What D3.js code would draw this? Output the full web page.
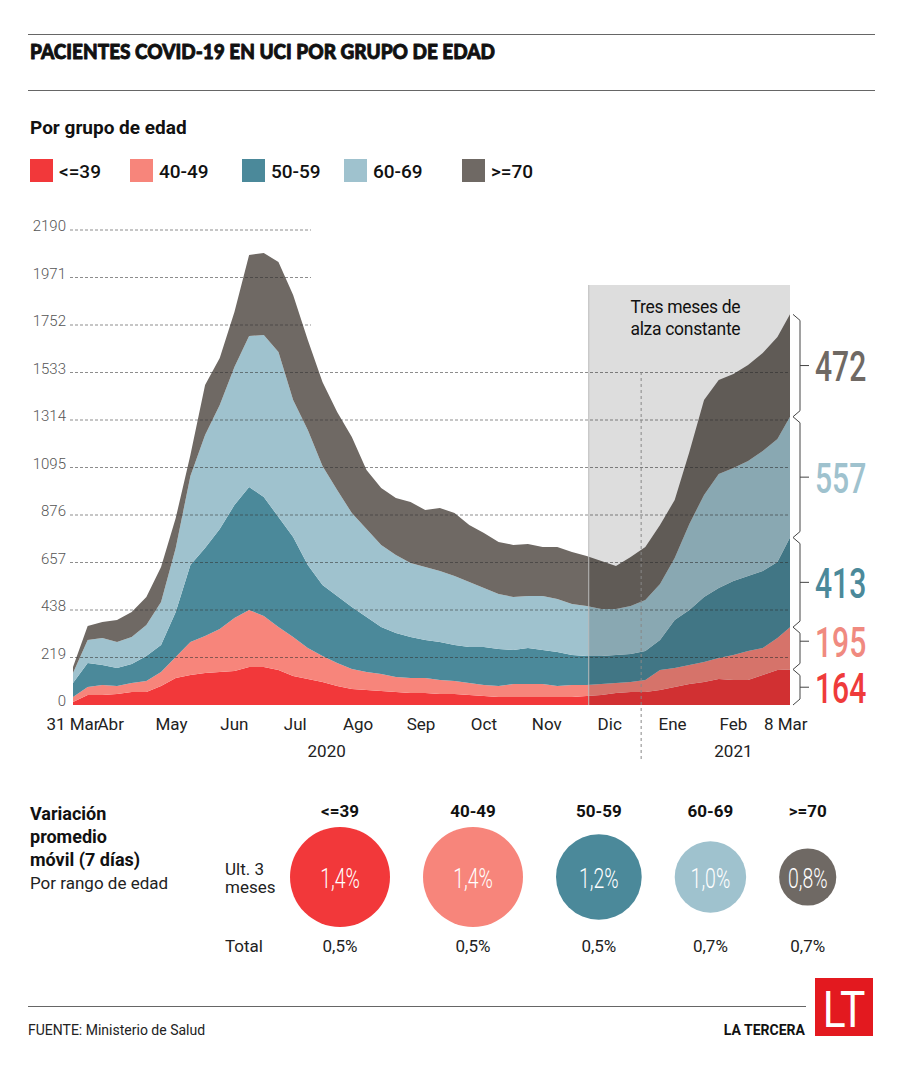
<!DOCTYPE html>
<html><head><meta charset="utf-8">
<script src="https://cdn.jsdelivr.net/npm/d3@7"></script>
<style>
body{margin:0;background:#fff}
svg{display:block}
text{font-family:Roboto,"Noto Sans",sans-serif}
</style>
</head><body><svg id="c" width="900" height="1071"></svg>
<script>
// ---------------- DATA ----------------
const dates = ["2020-03-31","2020-04-07","2020-04-14","2020-04-21","2020-04-28","2020-05-05","2020-05-12","2020-05-19","2020-05-26",
"2020-06-02","2020-06-09","2020-06-16","2020-06-23","2020-06-30","2020-07-07","2020-07-14","2020-07-21","2020-07-28",
"2020-08-04","2020-08-11","2020-08-18","2020-08-25","2020-09-01","2020-09-08","2020-09-15","2020-09-22","2020-09-29",
"2020-10-06","2020-10-13","2020-10-20","2020-10-27","2020-11-03","2020-11-10","2020-11-17","2020-11-24",
"2020-12-01","2020-12-08","2020-12-15","2020-12-22","2020-12-29","2021-01-05","2021-01-12","2021-01-19","2021-01-26",
"2021-02-02","2021-02-09","2021-02-16","2021-02-23","2021-03-02","2021-03-08"];
const age39   = [14,46,46,51,60,60,88,124,138,148,152,157,175,175,161,134,120,106,88,74,69,65,60,55,55,51,51,46,41,37,37,37,37,37,37,41,46,55,60,60,69,83,97,106,120,115,115,138,161,164];
const age40_49= [23,37,46,37,41,51,64,97,152,170,198,244,263,235,199,180,143,120,106,92,83,78,69,69,69,64,60,55,51,51,60,60,60,51,55,51,51,46,46,55,92,88,87,92,97,116,134,125,148,195];
const age50_59= [64,111,92,83,88,115,125,208,355,406,461,521,567,549,507,461,382,327,309,286,254,217,203,190,176,175,166,166,175,170,157,166,157,156,139,134,129,130,129,134,139,221,254,300,322,341,346,355,350,413];
const age60_69= [46,106,125,119,125,143,198,295,411,521,572,636,696,747,761,631,623,549,488,433,405,378,360,341,336,328,318,300,272,254,244,240,249,245,235,230,217,212,221,235,258,286,397,470,526,521,530,553,567,557];
const age70   = [28,64,74,102,115,129,161,138,97,230,217,254,374,378,414,484,415,387,360,351,272,262,262,281,263,290,290,263,254,240,240,239,225,239,239,231,221,198,226,244,272,267,331,438,433,433,443,452,471,472];
const groups = ["<=39","40-49","50-59","60-69",">=70"];
const yTicks = [0,219,438,657,876,1095,1314,1533,1752,1971,2190];
const monthLabels = ["31 Mar","Abr","May","Jun","Jul","Ago","Sep","Oct","Nov","Dic","Ene","Feb","8 Mar"];
const monthLabelDates = ["2020-03-31","2020-04-18","2020-05-17","2020-06-16","2020-07-15","2020-08-14","2020-09-13","2020-10-13","2020-11-12","2020-12-12","2021-01-11","2021-02-09","2021-03-06"];
const yearLabels = ["2020","2021"];
const yearLabelDates = ["2020-07-30","2021-02-09"];
const shadeStart = "2020-12-02", shadeEnd = "2021-03-08", yearDivider = "2020-12-27";
const varLast3 = [1.4,1.4,1.2,1.0,0.8];
const varTotal = [0.5,0.5,0.5,0.7,0.7];

// ---------------- STYLE ----------------
const colors = ["#f2383a","#f7857b","#4b899a","#9fc2ce","#6f6964"];
const labelColors = ["#ef3b3b","#f08a80","#4b899a","#9fc2ce","#6f6964"];

const svg = d3.select("#c");
svg.append("rect").attr("width",900).attr("height",1071).attr("fill","#fff");

// header
svg.append("line").attr("x1",28).attr("x2",875).attr("y1",34.5).attr("y2",34.5).attr("stroke","#666");
svg.append("text").attr("x",30).attr("y",59).attr("font-size",21).attr("font-weight",900).attr("fill","#111")
  .attr("stroke","#111").attr("stroke-width",0.9).attr("stroke-linejoin","round")
  .style("font-family","Lato, Roboto, sans-serif")
  .attr("textLength",465).attr("lengthAdjust","spacingAndGlyphs").text("PACIENTES COVID-19 EN UCI POR GRUPO DE EDAD");
svg.append("line").attr("x1",28).attr("x2",875).attr("y1",90.5).attr("y2",90.5).attr("stroke","#666");
svg.append("text").attr("x",30).attr("y",134).attr("font-size",19).attr("font-weight",700).attr("fill","#111").text("Por grupo de edad");

const legendX = [30,130,242,344,462];
groups.forEach((g,i)=>{
  svg.append("rect").attr("x",legendX[i]).attr("y",159).attr("width",23).attr("height",23).attr("fill",colors[i]);
  svg.append("text").attr("x",legendX[i]+29).attr("y",178).attr("font-size",19).attr("font-weight",500).attr("fill","#111").text(g);
});

// chart
const parse = d3.utcParse("%Y-%m-%d");
const x = d3.scaleUtc().domain([parse(dates[0]), parse(dates[dates.length-1])]).range([73,790]);
const y = d3.scaleLinear().domain([0,2190]).range([705,230]);
const keys = ["a","b","c","d","e"];
const rows = dates.map((d,i)=>({date:parse(d),a:age39[i],b:age40_49[i],c:age50_59[i],d:age60_69[i],e:age70[i]}));
const stacked = d3.stack().keys(keys)(rows);
const area = d3.area().x(d=>x(d.data.date)).y0(d=>y(d[0])).y1(d=>y(d[1]));
svg.append("g").selectAll("path").data(stacked).join("path")
  .attr("d",area).attr("fill",(d,i)=>colors[i]);

// gridlines
const grid = svg.append("g");
yTicks.filter(v=>v>0).forEach(v=>{
  grid.append("line").attr("x1",70).attr("x2",v>1533?311:790).attr("y1",y(v)).attr("y2",y(v))
    .attr("stroke","#333").attr("stroke-opacity",0.7).attr("stroke-width",0.8).attr("stroke-dasharray","3,2");
});
yTicks.forEach(v=>{
  svg.append("text").attr("x",66).attr("y",y(v)+1).attr("text-anchor","end").attr("font-size",15)
    .attr("font-weight",300).attr("fill","#555").text(v);
});

// shaded period
const sx0 = x(parse(shadeStart)), sx1 = x(parse(shadeEnd));
svg.append("rect").attr("x",sx0).attr("y",285).attr("width",sx1-sx0).attr("height",705-285)
  .attr("fill","#000").attr("fill-opacity",0.135);
svg.append("line").attr("x1",sx0).attr("x2",sx0).attr("y1",285).attr("y2",705).attr("stroke","#bbb");
const dvx = x(parse(yearDivider));
svg.append("line").attr("x1",dvx).attr("x2",dvx).attr("y1",372).attr("y2",760)
  .attr("stroke","#888").attr("stroke-dasharray","3,3");
const bcx = (sx0+sx1)/2-4;
svg.append("text").attr("x",bcx).attr("y",313).attr("text-anchor","middle").attr("font-size",17.5).attr("fill","#111").attr("letter-spacing",-0.3).text("Tres meses de");
svg.append("text").attr("x",bcx).attr("y",335).attr("text-anchor","middle").attr("font-size",17.5).attr("fill","#111").attr("letter-spacing",-0.3).text("alza constante");

// x labels
monthLabels.forEach((m,i)=>{
  svg.append("text").attr("x",x(parse(monthLabelDates[i]))).attr("y",730).attr("text-anchor","middle")
    .attr("font-size",17).attr("fill","#222").text(m);
});
yearLabels.forEach((m,i)=>{
  svg.append("text").attr("x",x(parse(yearLabelDates[i]))).attr("y",757).attr("text-anchor","middle")
    .attr("font-size",17).attr("fill","#222").text(m);
});

// right braces and labels
const last = stacked.map(s=>s[s.length-1]);
let mids = last.map(d=>(y(d[0])+y(d[1]))/2);
for(let i=1;i<mids.length;i++){ if(mids[i-1]-mids[i]<46) mids[i]=mids[i-1]-46; }
last.forEach((d,i)=>{
  const top=y(d[1]), bot=y(d[0]), m=mids[i];
  svg.append("path").attr("d",`M793,${top}L800,${top+6}L800,${bot-6}L793,${bot}M800,${m}L809,${m}`)
    .attr("fill","none").attr("stroke","#444").attr("stroke-width",1);
  svg.append("text").attr("transform",`translate(815,${m+15.5}) scale(0.7,1)`).attr("font-size",43)
    .attr("font-weight",500).attr("fill",labelColors[i]).text(d[1]-d[0]);
});

// bottom: variation section
["Variación","promedio","móvil (7 días)"].forEach((t,i)=>{
  svg.append("text").attr("x",30).attr("y",820+i*23).attr("font-size",18).attr("font-weight",700).attr("fill","#111").text(t);
});
svg.append("text").attr("x",30).attr("y",889).attr("font-size",17).attr("fill","#222").text("Por rango de edad");
svg.append("text").attr("x",225).attr("y",875).attr("font-size",17).attr("fill","#222").text("Ult. 3");
svg.append("text").attr("x",225).attr("y",893).attr("font-size",17).attr("fill","#222").text("meses");
svg.append("text").attr("x",225).attr("y",952).attr("font-size",17).attr("fill","#222").text("Total");

const r = d3.scaleLinear().domain([0,1.4]).range([0,50]);
const fmt = v=>d3.format(".1f")(v).replace(".",",")+"%";
let cx = 340;
varLast3.forEach((v,i)=>{
  if(i>0) cx += r(varLast3[i-1]) + r(v) + 33;
  svg.append("text").attr("x",cx).attr("y",817).attr("text-anchor","middle").attr("font-size",17).attr("font-weight",700).attr("fill","#111").text(groups[i]);
  svg.append("circle").attr("cx",cx).attr("cy",877).attr("r",r(v)).attr("fill",colors[i]);
  svg.append("text").attr("transform",`translate(${cx},888) scale(0.72,1)`).attr("text-anchor","middle").attr("font-size",27)
    .attr("font-weight",300).attr("fill","#fff").text(fmt(v));
  svg.append("text").attr("x",cx).attr("y",952).attr("text-anchor","middle").attr("font-size",17).attr("fill","#222").text(fmt(varTotal[i]));
});

// footer
svg.append("line").attr("x1",28).attr("x2",806).attr("y1",1006.5).attr("y2",1006.5).attr("stroke","#666");
svg.append("text").attr("x",28).attr("y",1035).attr("font-size",14).attr("fill","#222").text("FUENTE: Ministerio de Salud");
svg.append("text").attr("x",805).attr("y",1035).attr("text-anchor","end").attr("font-size",14).attr("font-weight",700).attr("fill","#111").text("LA TERCERA");
svg.append("rect").attr("x",815).attr("y",978).attr("width",58).attr("height",58).attr("fill","#e3191f");
svg.append("text").attr("transform","translate(844,1027) scale(0.85,1)").attr("text-anchor","middle").attr("font-size",50).attr("font-weight",400).attr("fill","#fff").text("LT");
</script>
</body></html>
